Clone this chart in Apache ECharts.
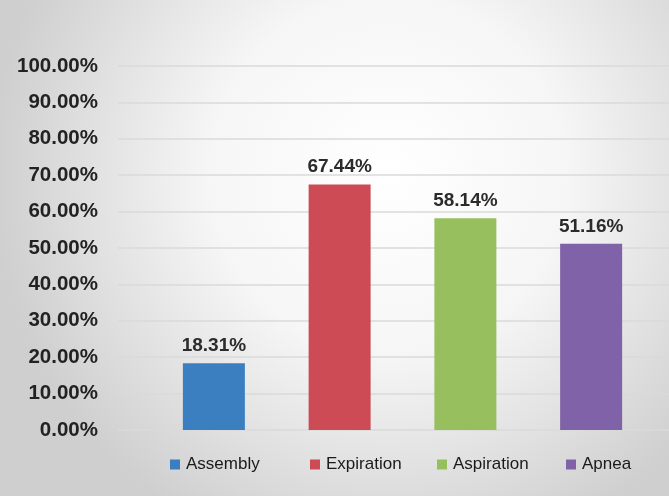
<!DOCTYPE html>
<html>
<head>
<meta charset="utf-8">
<script src="https://cdn.jsdelivr.net/npm/echarts@6/dist/echarts.min.js"></script>
<style>
html,body{margin:0;padding:0;}
#main{width:669px;height:496px;}
</style>
</head>
<body>
<div id="main"></div>
<script>
const categories = ['Assembly', 'Expiration', 'Aspiration', 'Apnea'];
const values = [18.31, 67.44, 58.14, 51.16];
const colors = ['#3b7fc1', '#cd4b55', '#97bf5e', '#7f62a7'];
const yTicks = [0, 10, 20, 30, 40, 50, 60, 70, 80, 90, 100];
const legendLeft = [170, 310, 437, 566];

const chart = echarts.init(document.getElementById('main'));

const series = categories.map((name, i) => ({
  name: name,
  type: 'bar',
  xAxisIndex: 1,
  yAxisIndex: 1,
  barWidth: 62,
  barGap: '-100%',
  itemStyle: { color: colors[i] },
  label: {
    show: true,
    position: 'top',
    distance: 8,
    formatter: p => p.value.toFixed(2) + '%',
    fontFamily: 'Liberation Sans',
    fontSize: 19,
    fontWeight: 'bold',
    color: '#2b2b2b'
  },
  data: categories.map((c, j) => (j === i ? values[i] : null))
}));

const legends = categories.map((name, i) => ({
  data: [name],
  left: legendLeft[i],
  top: 456,
  padding: 0,
  itemWidth: 10,
  itemHeight: 10,
  itemGap: 0,
  icon: 'rect',
  selectedMode: false,
  textStyle: { fontFamily: 'Liberation Sans', fontSize: 17, color: '#1a1a1a', padding: [0, 0, 0, 1] }
}));

chart.setOption({
  backgroundColor: {
    type: 'radial', x: 0.58, y: 0.35, r: 0.8,
    colorStops: [
      { offset: 0, color: '#ffffff' },
      { offset: 0.45, color: '#f6f6f6' },
      { offset: 1, color: '#cfcfcf' }
    ]
  },
  animation: false,
  legend: legends,
  grid: [
    { left: 118, right: 0, top: 66, bottom: 66 },
    { left: 151, right: 15, top: 66, bottom: 66 }
  ],
  xAxis: [
    { type: 'category', gridIndex: 0, data: [''], show: false },
    { type: 'category', gridIndex: 1, data: categories, show: false }
  ],
  yAxis: [
    {
      type: 'value', gridIndex: 0, min: yTicks[0], max: yTicks[yTicks.length - 1], interval: 10,
      axisLine: { show: false }, axisTick: { show: false },
      splitLine: { lineStyle: { color: '#dadada', width: 1.5 } },
      axisLabel: {
        margin: 20,
        formatter: v => v.toFixed(2) + '%',
        fontFamily: 'Liberation Sans', fontSize: 20.5, fontWeight: 'bold', color: '#222'
      }
    },
    { type: 'value', gridIndex: 1, min: 0, max: 100, interval: 10, show: false }
  ],
  series: series
});
</script>
</body>
</html>
